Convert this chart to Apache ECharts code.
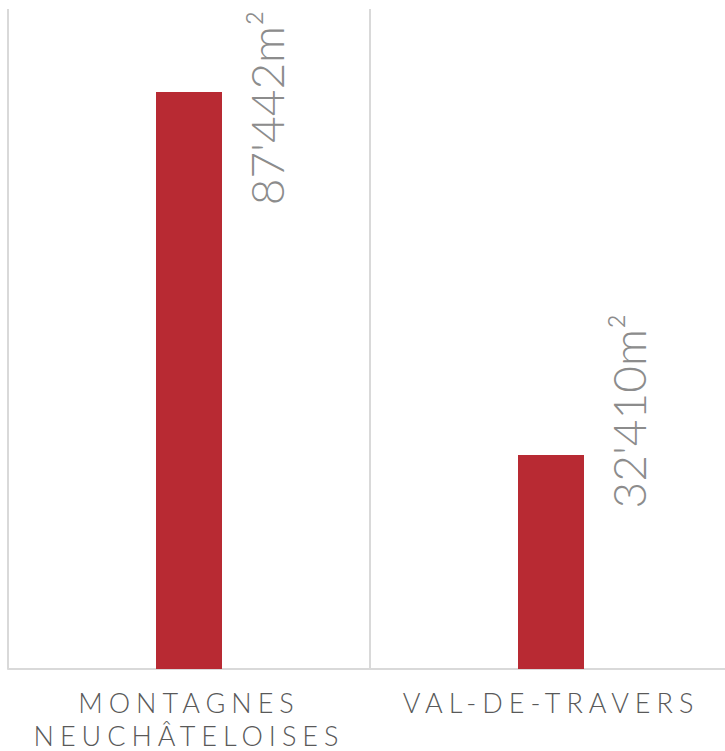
<!DOCTYPE html>
<html>
<head>
<meta charset="utf-8">
<script src="https://cdn.jsdelivr.net/npm/echarts@6/dist/echarts.min.js"></script>
<style>
  html, body { margin: 0; padding: 0; background: #fff; }
  #main { width: 725px; height: 751px; }
  #main text[style*="27px"] { letter-spacing: 6px; }
</style>
</head>
<body>
<div id="main"></div>
<script>
var categories = ['MONTAGNES\nNEUCHÂTELOISES', 'VAL-DE-TRAVERS'];
var surfaces = [87442, 32410];
var surfaceLabels = ["87'442m²", "32'410m²"];
// vertical shift of each value label centre from its bar top
var labelShift = [16, -44];

var chartDom = document.getElementById('main');
var myChart = echarts.init(chartDom, null, {
    renderer: 'svg'
});
var option;
option = {
    animation: false,
    grid: { left: 8, right: -7, top: 9, bottom: 82, outerBoundsMode: 'none' },
    xAxis: {
        type: 'category',
        data: categories,
        axisTick: { show: false },
        axisLine: { lineStyle: { color: '#d9d9d9', width: 2 } },
        splitLine: { show: true, interval: 0, lineStyle: { color: '#d9d9d9', width: 2 } },
        axisLabel: {
            interval: 0,
            margin: 17,
            color: '#595959',
            fontFamily: 'Lato',
            fontWeight: 300,
            fontSize: 27,
            lineHeight: 33
        }
    },
    yAxis: {
        type: 'value',
        min: 0,
        max: 100000,
        show: false,
        splitLine: { show: false }
    },
    series: [
        {
            type: 'bar',
            barWidth: 66,
            itemStyle: { color: '#b82a33' },
            data: surfaces.map(function (v, i) {
                return {
                    value: v,
                    label: {
                        show: true,
                        position: [110, labelShift[i]],
                        rotate: 90,
                        align: 'center',
                        verticalAlign: 'middle',
                        formatter: surfaceLabels[i],
                        color: '#8c8c8c',
                        fontFamily: 'Lato',
                        fontWeight: 300,
                        fontSize: 46
                    }
                };
            })
        }
    ]
};
option && myChart.setOption(option);
</script>
</body>
</html>
